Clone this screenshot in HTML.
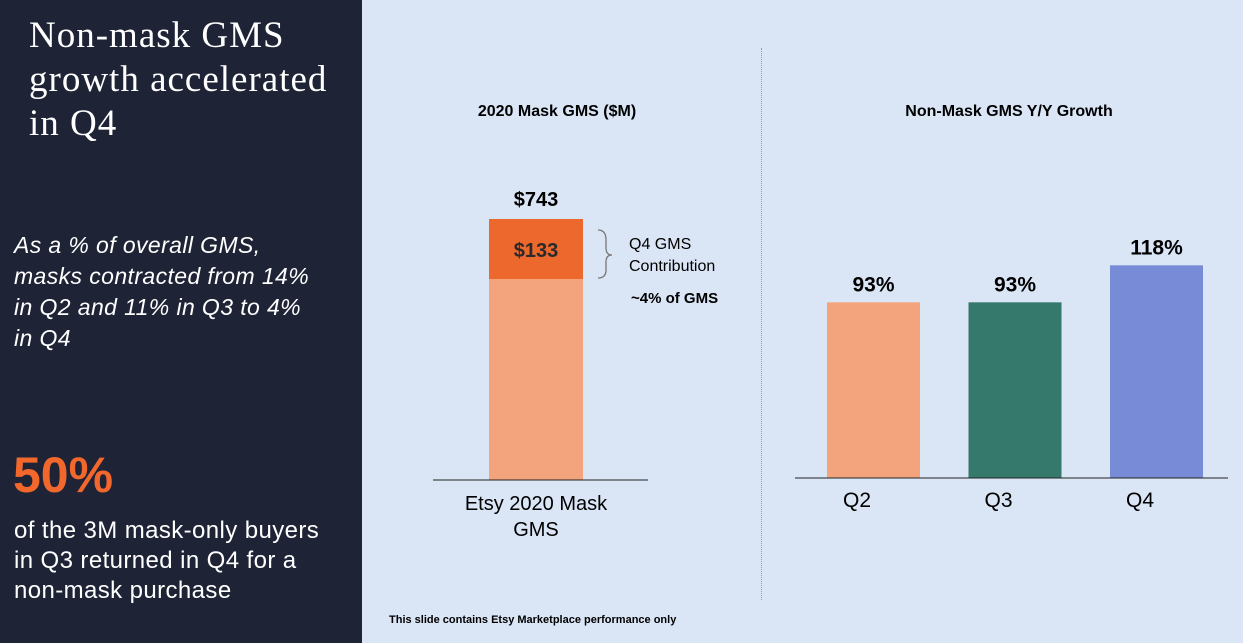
<!DOCTYPE html>
<html><head><meta charset="utf-8"><style>
body{margin:0;width:1243px;height:643px;overflow:hidden;background:#dae5f5;font-family:"Liberation Sans",sans-serif;position:relative}
.l{position:absolute;left:0;top:0;width:362px;height:643px;background:#1f2336;color:#fff}
.a{position:absolute;white-space:nowrap}
</style></head><body>
<div class="l">
<div class="a" style="left:29px;top:14px;font-family:'Liberation Serif',serif;font-size:37px;line-height:44px;letter-spacing:1px">Non-mask GMS<br>growth accelerated<br>in Q4</div>
<div class="a" style="left:14px;top:230px;font-size:23px;font-style:italic;line-height:31px;letter-spacing:0.4px">As a % of overall GMS,<br>masks contracted from 14%<br>in Q2 and 11% in Q3 to 4%<br>in Q4</div>
<div class="a" style="left:13px;top:446px;font-size:50px;font-weight:bold;color:#f1672c">50%</div>
<div class="a" style="left:14px;top:516px;font-size:24px;line-height:30px;letter-spacing:0.4px">of the 3M mask-only buyers<br>in Q3 returned in Q4 for a<br>non-mask purchase</div>
</div>
<div class="a" style="left:761px;top:48px;height:552px;border-left:1px dotted #999"></div>
<div class="a" style="left:389px;top:614px;font-size:11px;font-weight:bold;color:#000">This slide contains Etsy Marketplace performance only</div>
<svg class="a" style="left:0;top:0" width="1243" height="643" id="c"></svg>
<script>
const maskCategories=["Etsy 2020 Mask GMS"];
const maskTotal=[743];
const maskQ4=[133];
const growthCategories=["Q2","Q3","Q4"];
const growthValues=[93,93,118];
const growthColors=["#f4a47c","#35796c","#788bd6"];
const svg=document.getElementById('c');const NS="http://www.w3.org/2000/svg";
function mk(t,a,txt){const e=document.createElementNS(NS,t);for(const k in a)e.setAttribute(k,a[k]);if(txt!==undefined)e.textContent=txt;svg.appendChild(e);return e;}
const yL=v=>480-v*(261/743);
let e=mk('text',{x:557,y:116,'text-anchor':'middle','font-size':16,'font-weight':'bold'},'2020 Mask GMS ($M)');

maskCategories.forEach((c,i)=>{
 const x=489,w=94;
 e=mk('rect',{x:x,y:yL(maskTotal[i]),width:w,height:480-yL(maskTotal[i]),fill:'#f4a47c'});
 
 const q4h=Math.max(480-yL(maskQ4[i]),60);
 e=mk('rect',{x:x,y:yL(maskTotal[i]),width:w,height:q4h,fill:'#ec682d'});
 
 e=mk('text',{x:x+w/2,y:yL(maskTotal[i])-13,'text-anchor':'middle','font-size':20,'font-weight':'bold'},'$'+maskTotal[i]);
 
 e=mk('text',{x:x+w/2,y:yL(maskTotal[i])+q4h/2+8,'text-anchor':'middle','font-size':20,'font-weight':'bold','fill':'#2a2a2a'},'$'+maskQ4[i]);
 
 e=mk('text',{x:x+w/2,y:510,'text-anchor':'middle','font-size':20},'Etsy 2020 Mask');
 
 e=mk('text',{x:x+w/2,y:536,'text-anchor':'middle','font-size':20},'GMS');
 
});
e=mk('path',{d:'M598 230 Q606 230 606 240 L606 248 Q606 255 612 255 Q606 255 606 262 L606 270 Q606 278 598 278',fill:'none',stroke:'#777','stroke-width':1.3});

e=mk('text',{x:629,y:249,'font-size':16},'Q4 GMS');
e=mk('text',{x:629,y:271,'font-size':16},'Contribution');
e=mk('text',{x:631,y:303,'font-size':15,'font-weight':'bold'},'~4% of GMS');
e=mk('line',{x1:433,x2:648,y1:480,y2:480,stroke:'#222','stroke-width':1});

const yR=v=>478-(v+25.7)*1.48;
const xR=i=>827+i*141.5;
e=mk('text',{x:1009,y:116,'text-anchor':'middle','font-size':16,'font-weight':'bold'},'Non-Mask GMS Y/Y Growth');

growthCategories.forEach((c,i)=>{
 e=mk('rect',{x:xR(i),y:yR(growthValues[i]),width:93,height:478-yR(growthValues[i]),fill:growthColors[i]});
 
 e=mk('text',{x:xR(i)+46.5,y:yR(growthValues[i])-11,'text-anchor':'middle','font-size':21,'font-weight':'bold'},growthValues[i]+'%');
 
 e=mk('text',{x:xR(i)+30,y:507,'text-anchor':'middle','font-size':21},c);
 
});
e=mk('line',{x1:795,x2:1228,y1:478,y2:478,stroke:'#222','stroke-width':1});

</script>
</body></html>
